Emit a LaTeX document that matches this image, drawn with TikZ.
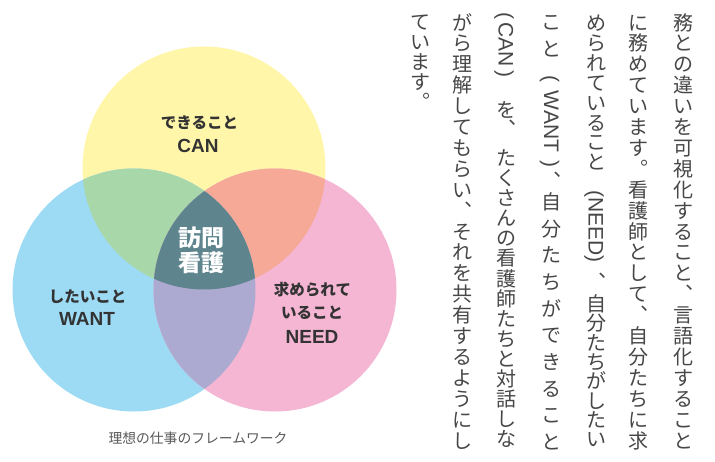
\documentclass[tikz,border=0pt]{standalone}
\usepackage{fontspec}
\newfontfamily\jp{Noto Sans CJK JP}
\newfontfamily\lat{Liberation Sans}
\definecolor{cy}{HTML}{FFF6A9}
\definecolor{cb}{HTML}{9DDBF5}
\definecolor{cp}{HTML}{F4B6D3}
\definecolor{cg}{HTML}{A8D7AA}
\definecolor{co}{HTML}{F5A996}
\definecolor{cv}{HTML}{ADAAD1}
\definecolor{cc}{HTML}{5E858E}
\definecolor{tdark}{HTML}{333333}
\definecolor{tv}{HTML}{474747}
\definecolor{tcap}{HTML}{585858}
\tikzset{
  vch/.style={inner sep=0pt, text height=17.6pt, text depth=2.4pt,
    font=\jp\fontsize{20pt}{20pt}\selectfont, text=tv},
  vlat/.style={inner sep=0pt, rotate=-90, text height=15pt, text depth=0pt,
    font=\lat\fontsize{21pt}{21pt}\selectfont, text=tv},
  lbljp/.style={inner sep=0pt, text height=13.6pt, text depth=1.9pt,
    font=\jp\bfseries\fontsize{15.5pt}{15.5pt}\selectfont, text=tdark},
  lbllat/.style={inner sep=0pt, text height=13.6pt, text depth=0pt,
    font=\lat\bfseries\fontsize{19pt}{19pt}\selectfont, text=tdark},
  lblctr/.style={inner sep=0pt, text height=20.2pt, text depth=2.8pt,
    font=\jp\bfseries\fontsize{23pt}{23pt}\selectfont, text=white},
  captxt/.style={inner sep=0pt, text height=12.1pt, text depth=1.7pt,
    font=\jp\fontsize{13.8pt}{13.8pt}\selectfont, text=tcap},
}
% name, x, first centre y, pitch, list
\newcommand\vcol[5]{%
  \foreach \c [count=\i from 0] in {#5} {
    \node[vch] (#1-\i) at (#2, #3+\i*#4) {\c};
  }}
\begin{document}
\begin{tikzpicture}[x=1pt,y=-1pt]
\useasboundingbox (0,0) rectangle (715,462);
\fill[white] (0,0) rectangle (715,462);

% --- Venn diagram ---
\coordinate (Y) at (204,168);
\coordinate (B) at (134,290);
\coordinate (P) at (275,290);
\def\rr{121.5pt}
\fill[cy] (Y) circle[radius=\rr];
\fill[cb] (B) circle[radius=\rr];
\fill[cp] (P) circle[radius=\rr];
\begin{scope}
  \clip (Y) circle[radius=\rr];
  \fill[cg] (B) circle[radius=\rr];
  \fill[co] (P) circle[radius=\rr];
\end{scope}
\begin{scope}
  \clip (B) circle[radius=\rr];
  \fill[cv] (P) circle[radius=\rr];
\end{scope}
\begin{scope}
  \clip (Y) circle[radius=\rr];
  \clip (B) circle[radius=\rr];
  \fill[cc] (P) circle[radius=\rr];
\end{scope}

\node[lbljp]  (canjp)  at (199.5,123) {できること};
\node[lbllat] (canen)  at (198,145.5) {CAN};
\node[lblctr] (hom1)   at (201,238) {訪問};
\node[lblctr] (hom2)   at (201,263) {看護};
\node[lbljp]  (wantjp) at (87.5,297) {したいこと};
\node[lbllat] (wanten) at (87,318.5) {WANT};
\node[lbljp]  (needjp1) at (312.5,290) {求められて};
\node[lbljp]  (needjp2) at (312,312.5) {いること};
\node[lbllat] (needen) at (312,337) {NEED};
\node[captxt] (cap) at (198,438) {理想の仕事のフレームワーク};

% --- vertical text (right to left columns) ---
\vcol{ca}{683}{22.45}{20.9}{務,と,の,違,い,を,可,視,化,す,る,こ,と,︑,言,語,化,す,る,こ,と}
\vcol{cb}{638.5}{22.45}{20.9}{に,務,め,て,い,ま,す,︒,看,護,師,と,し,て,︑,自,分,た,ち,に,求}
% column 3
\vcol{cc3a}{596}{23}{19.9}{め,ら,れ,て,い,る,こ,と}
\node[vlat] (need) at (596,226.5) {(NEED)};
\node[vch] (cc3c) at (596,282) {︑};
\vcol{cc3b}{596}{304}{19.3}{自,分,た,ち,が,し,た,い}
% column 4
\vcol{cd4a}{551.5}{22}{27}{こ,と}
\node[vlat] (want) at (551.5,121.5) {(\kern8pt WANT\kern8pt)};
\node[vch] (cd4c) at (551.5,181) {︑};
\vcol{cd4b}{551.5}{202}{26.67}{自,分,た,ち,が,で,き,る,こ,と}
% column 5
\node[vlat] (can) at (506,45) {(\kern3pt CAN\kern3pt)};
\node[vch] (ce5a) at (506,110) {を};
\node[vch] (ce5c) at (506,129) {︑};
\vcol{ce5b}{506}{158}{20.07}{た,く,さ,ん,の,看,護,師,た,ち,と,対,話,し,な}
% column 6
\vcol{cf}{462.5}{22.45}{20.9}{が,ら,理,解,し,て,も,ら,い,︑,そ,れ,を,共,有,す,る,よ,う,に,し}
% column 7
\vcol{cg}{420}{22}{20}{て,い,ま,す,︒}
\end{tikzpicture}
\end{document}
